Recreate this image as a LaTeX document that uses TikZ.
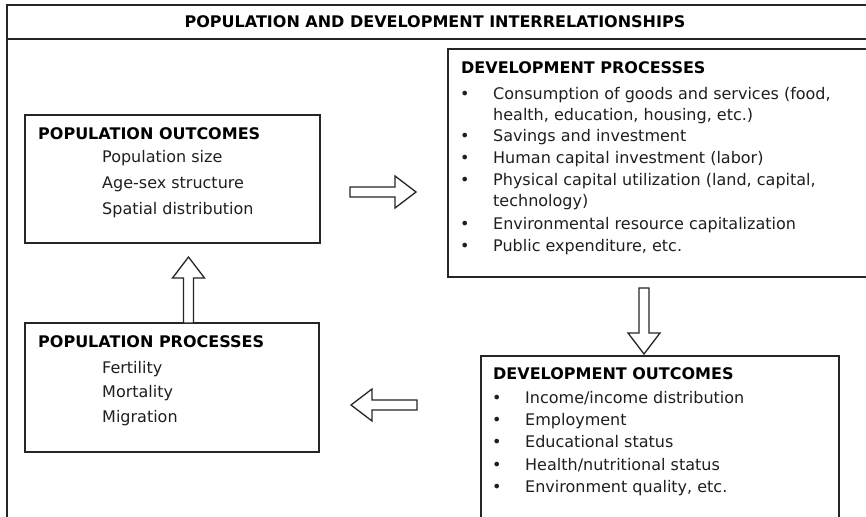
\documentclass[tikz,border=0pt]{standalone}
\usepackage{fontspec}
\setmainfont{DejaVu Sans}
\usetikzlibrary{calc}
\begin{document}
\begin{tikzpicture}[x=1pt,y=-1pt,
  frameline/.style={draw=black!85, line width=2pt},
  box/.style={draw=black!85, line width=1.6pt, inner sep=0pt, outer sep=0pt, anchor=north west},
  head/.style={anchor=base west, inner sep=0pt, text=black, font=\fontsize{16}{19}\selectfont\bfseries},
  txt/.style={anchor=base west, inner sep=0pt, text=black!88, font=\fontsize{16}{19}\selectfont},
  titletext/.style={anchor=base, inner sep=0pt, text=black, font=\fontsize{16}{19}\selectfont\bfseries},
  blockarrow/.pic={\draw[draw=black!85, line width=1.3pt, fill=white, line join=miter]
    (0,-5) -- (45,-5) -- (45,-16) -- (66,0) -- (45,16) -- (45,5) -- (0,5) -- cycle;}
]
\useasboundingbox (0,0) rectangle (866,516);
\clip (0,0) rectangle (866,516);
\fill[white] (0,0) rectangle (866,516);

% outer frame and title band
\draw[frameline] (7,530) -- (7,5) -- (880,5);
\draw[frameline] (7,39.5) -- (880,39.5);
\node[titletext] (title) at (435,28) {POPULATION AND DEVELOPMENT INTERRELATIONSHIPS};

% boxes
\node[box, minimum width=295, minimum height=128] (popout) at (25,115) {};
\node[box, minimum width=294, minimum height=129] (popproc) at (25,323) {};
\node[box, minimum width=440, minimum height=228] (devproc) at (448,49) {};
\node[box, minimum width=358, minimum height=180] (devout) at (481,356) {};

% population outcomes
\node[head] (pohead) at (38,139) {POPULATION OUTCOMES};
\node[txt] (po1) at (102,162.5) {Population size};
\node[txt] (po2) at (102,188) {Age-sex structure};
\node[txt] (po3) at (102,214) {Spatial distribution};

% population processes
\node[head] (pphead) at (38,347) {POPULATION PROCESSES};
\node[txt] (pp1) at (102,373) {Fertility};
\node[txt] (pp2) at (102,397.5) {Mortality};
\node[txt] (pp3) at (102,422) {Migration};

% development processes
\node[head] (dphead) at (461,74) {DEVELOPMENT PROCESSES};
\foreach \yy in {99.3,141.7,163.3,185,229.3,251.7}
  \node[txt] at (460,\yy) {•};
\node[txt] (dp1) at (493,99.3) {Consumption of goods and services (food,};
\node[txt] (dp1b) at (493,120.5) {health, education, housing, etc.)};
\node[txt] (dp2) at (493,141.7) {Savings and investment};
\node[txt] (dp3) at (493,163.3) {Human capital investment (labor)};
\node[txt] (dp4) at (493,185) {Physical capital utilization (land, capital,};
\node[txt] (dp4b) at (493,206.7) {technology)};
\node[txt] (dp5) at (493,229.3) {Environmental resource capitalization};
\node[txt] (dp6) at (493,251.7) {Public expenditure, etc.};

% development outcomes
\node[head] (dohead) at (493,379) {DEVELOPMENT OUTCOMES};
\foreach \yy in {403,425,447,470,492}
  \node[txt] at (492,\yy) {•};
\node[txt] (do1) at (525,403) {Income/income distribution};
\node[txt] (do2) at (525,425) {Employment};
\node[txt] (do3) at (525,447) {Educational status};
\node[txt] (do4) at (525,470) {Health/nutritional status};
\node[txt] (do5) at (525,492) {Environment quality, etc.};

% block arrows between the boxes
\coordinate (ra) at ($(popout.east)+(30,13)$);
\coordinate (da) at ($(devproc.south west)+(196,11)$);
\coordinate (la) at ($(devout.north west)+(-64,49)$);
\coordinate (ua) at ($(popproc.north west)+(163.5,0)$);
\pic at (ra) {blockarrow};
\pic[rotate=-90] at (da) {blockarrow};
\pic[rotate=180] at (la) {blockarrow};
\pic[rotate=90] at (ua) {blockarrow};
\end{tikzpicture}
\end{document}
